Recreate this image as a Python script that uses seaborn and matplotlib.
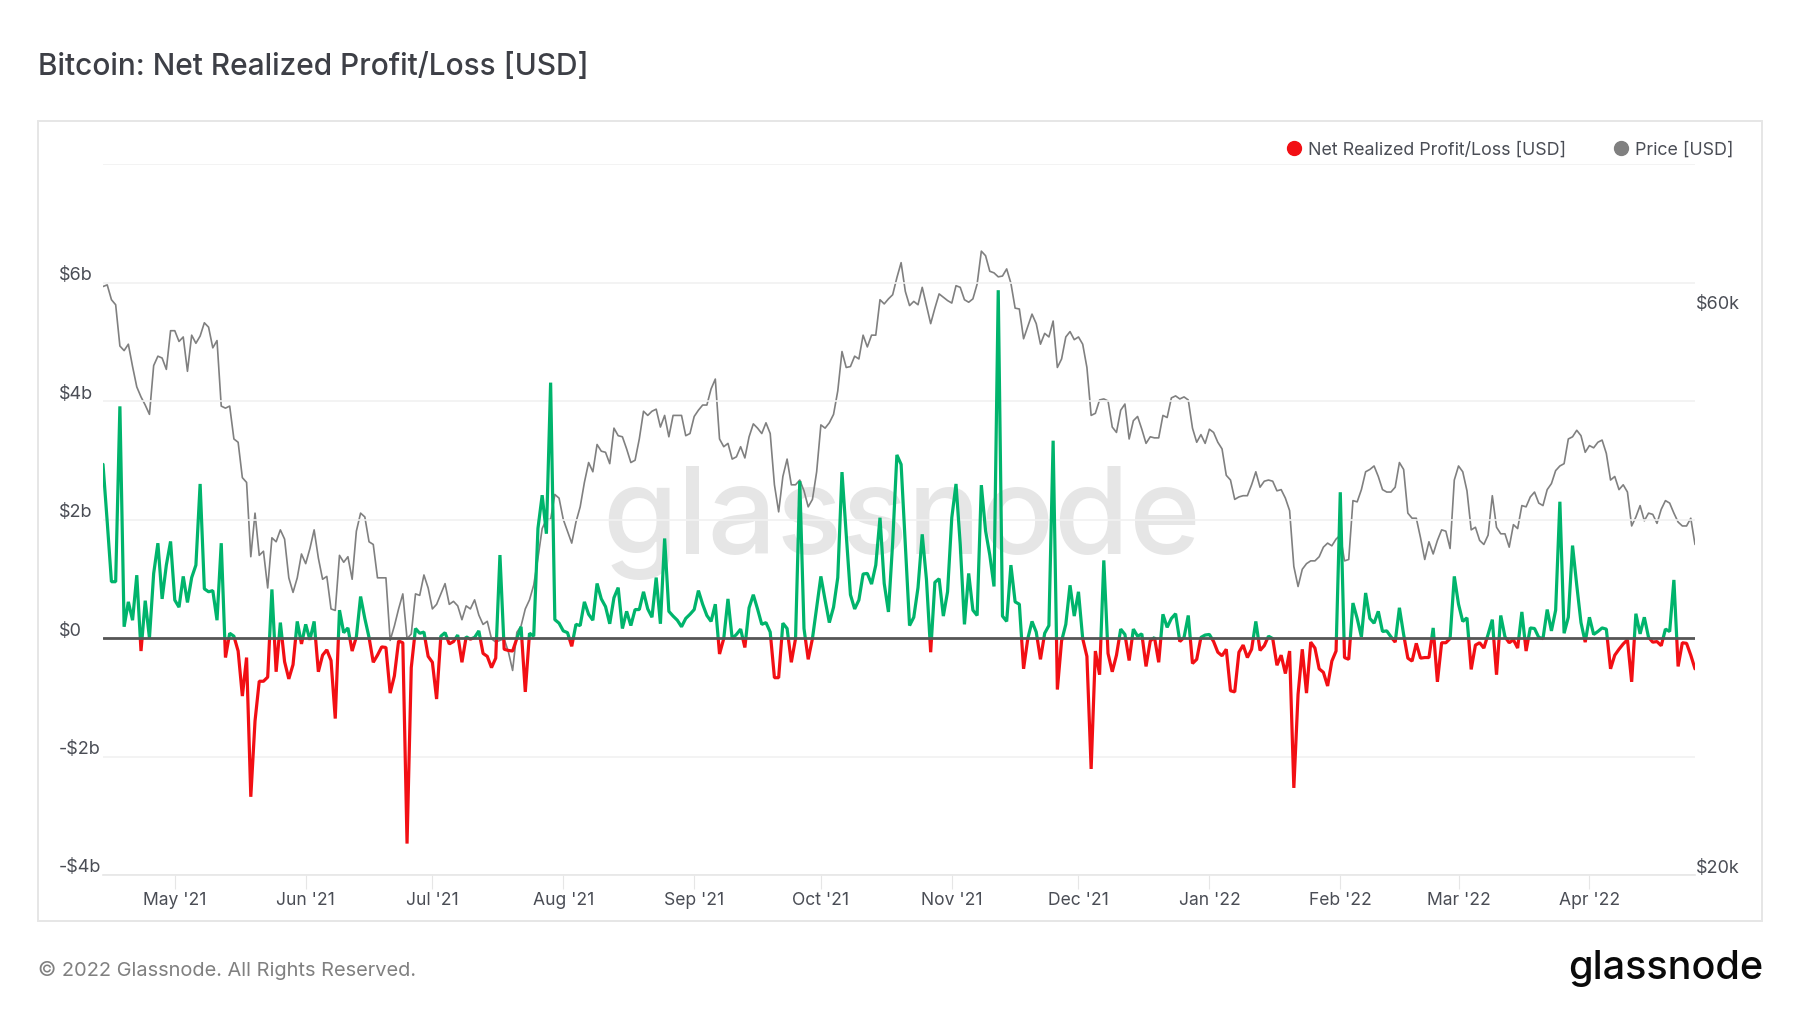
import matplotlib
matplotlib.use("Agg")
import matplotlib.pyplot as plt
from matplotlib.lines import Line2D
from matplotlib.patches import Rectangle
from matplotlib.ticker import NullLocator
from matplotlib.transforms import ScaledTranslation
import numpy as np
import pandas as pd
import seaborn as sns

pnl_b = [
 2.93,1.96,.95,.95,3.91,.19,.61,.30,1.06,-.22,.63,0,1.09,1.6,.66,1.23,1.63,.64,.52,1.04,
 .6,1.02,1.23,2.6,.83,.78,.8,.3,1.6,-.33,.08,.03,-.22,-.98,-.33,-2.68,-1.4,-.73,-.73,-.66,
 .82,-.57,.26,-.4,-.69,-.45,.28,-.1,.23,-.03,.28,-.57,-.29,-.2,-.38,-1.36,.47,.09,.17,-.22,
 .02,.7,.33,.01,-.41,-.29,-.15,-.16,-.93,-.64,-.05,-.08,-3.47,-.5,.16,.08,.1,-.31,-.41,-1.03,
 .03,.09,-.1,-.06,.05,-.41,.02,-.02,.01,.12,-.26,-.31,-.5,-.34,1.4,-.19,-.21,-.22,-.01,.19,
 -.91,.08,.03,1.85,2.41,1.76,4.31,.31,.25,.12,.09,-.14,.23,.21,.61,.4,.3,.92,.66,.53,
 .24,.68,.85,.16,.45,.21,.48,.48,.78,.49,.35,1.02,.24,1.68,.45,.37,.3,.19,.33,.4,
 .48,.8,.57,.38,.28,.57,-.27,-.01,.66,-.01,.06,.15,-.16,.51,.73,.49,.23,.26,.1,-.67,
 -.67,.25,.16,-.41,-.01,2.65,.16,-.36,-.01,.51,1.04,.64,.26,.52,1.02,2.8,1.75,.73,.49,.64,
 1.08,1.09,.91,1.23,2.03,.92,.44,1.61,3.09,2.93,1.58,.21,.35,.85,1.75,.99,-.24,.94,1.0,.37,
 .78,2.03,2.6,1.58,.23,1.09,.47,.38,2.58,1.81,1.4,.87,5.87,.37,.28,1.23,.61,.57,-.52,-.01,
 .28,.1,-.36,.08,.21,3.33,-.87,-.05,.23,.89,.37,.78,-.01,-.31,-2.21,-.22,-.62,1.31,-.26,-.57,
 -.29,.15,.06,-.38,.15,.03,.07,-.48,-.05,.01,-.41,.4,.18,.33,.41,-.06,.01,.38,-.43,-.36,
 .01,.05,.06,-.06,-.24,-.3,-.19,-.89,-.91,-.24,-.12,-.33,-.19,.28,-.21,-.13,.03,-.01,-.46,-.29,
 -.6,-.22,-2.53,-.95,-.19,-.93,-.07,-.17,-.52,-.58,-.81,-.39,-.22,2.46,-.33,-.36,.59,.33,.02,.76,
 .33,.25,.45,.11,.12,.02,-.07,.51,.06,-.34,-.39,-.09,-.34,-.33,-.33,.17,-.74,-.08,-.08,-.01,
 1.04,.57,.28,.34,-.53,-.12,-.08,-.17,.06,.31,-.62,.38,.02,-.08,-.03,-.17,.44,-.22,.17,.16,
 .01,-.01,.48,.12,.47,2.3,.08,.35,1.56,.89,.26,-.07,.35,.06,.11,.17,.15,-.52,-.29,-.19,
 -.1,-.03,-.74,.41,.07,.35,.01,-.07,-.06,-.13,.15,.11,.98,-.48,-.08,-.09,-.29,-.52,
]
price_k = [
 63.0,63.2,61.4,60.8,56.1,55.6,56.3,53.9,51.8,50.8,50.0,49.1,54.0,55.0,54.8,53.6,57.8,57.8,56.6,57.1,
 53.4,57.3,56.4,57.2,58.7,58.2,55.9,56.7,49.9,49.7,49.9,46.8,46.5,43.4,43.0,37.2,40.5,37.3,37.6,35.0,
 38.6,38.3,39.2,38.5,35.7,34.7,35.7,37.4,36.7,37.8,39.2,37.1,35.6,35.8,33.6,33.5,37.3,36.8,37.2,35.6,
 39.1,40.5,40.2,38.3,38.1,35.7,35.7,35.7,31.6,32.5,33.6,34.6,31.7,32.0,34.6,34.5,35.9,35.0,33.6,33.9,
 34.6,35.3,33.9,34.1,33.8,32.9,33.8,33.6,34.2,33.2,32.6,32.8,31.7,31.5,31.6,31.7,30.9,29.8,32.1,32.5,
 33.6,34.2,35.2,37.1,39.3,40.0,40.0,42.0,41.7,40.0,39.1,38.2,39.8,41.0,43.0,44.7,43.9,46.3,45.7,45.6,
 44.6,47.8,47.1,47.0,45.9,44.7,44.9,46.8,49.4,49.0,49.4,49.6,47.9,49.0,47.0,49.0,49.0,49.0,47.1,47.3,
 48.9,49.5,50.0,50.0,51.6,52.6,46.8,46.1,46.4,45.0,45.2,46.1,45.1,47.0,48.2,47.8,47.3,48.3,47.3,42.8,
 40.6,43.5,45.0,42.8,42.8,43.2,42.3,41.0,41.6,43.9,48.1,47.8,48.3,49.1,51.4,55.5,53.8,53.9,55.0,54.7,
 57.3,56.0,57.3,57.3,61.4,60.9,61.5,62.0,64.1,66.0,62.4,60.7,61.2,60.8,62.9,60.7,58.6,60.4,62.1,61.7,
 61.3,61.0,63.1,62.9,61.4,61.1,61.5,63.3,67.5,66.9,64.9,64.7,64.2,64.3,65.2,63.4,60.4,60.3,56.9,58.3,
 59.7,58.6,56.3,57.5,57.1,58.9,53.8,54.7,57.1,57.7,56.8,57.1,56.3,53.8,49.0,49.2,50.5,50.6,50.4,47.9,
 47.4,49.5,50.1,46.8,48.5,48.9,47.7,46.4,47.0,46.9,46.9,49.0,48.8,50.7,50.9,50.6,50.8,50.5,47.8,46.5,
 47.2,46.4,47.7,47.4,46.5,45.9,43.6,43.2,41.6,41.8,41.9,41.9,42.8,43.9,42.6,43.1,43.2,43.1,42.3,42.4,
 41.7,40.7,36.5,35.1,36.3,36.7,36.9,36.9,37.2,37.9,38.2,38.0,38.5,38.8,36.9,37.0,41.5,41.4,42.4,43.9,
 44.1,44.4,43.5,42.4,42.2,42.2,42.6,44.7,44.1,40.5,40.1,40.1,38.6,37.0,38.3,37.4,38.4,39.2,39.1,37.8,
 43.2,44.4,43.9,42.3,39.2,39.4,38.4,38.1,38.8,41.9,39.4,38.9,38.9,37.9,39.6,39.3,41.1,41.0,41.8,42.2,
 41.3,41.1,42.4,42.9,44.0,44.4,44.6,46.8,47.0,47.6,47.1,45.6,46.2,46.0,46.5,46.7,45.5,43.2,43.5,42.4,
 42.8,42.2,39.5,40.2,41.1,39.9,40.5,40.4,39.7,40.8,41.5,41.3,40.5,39.8,39.5,39.5,40.1,38.1,
]
start_date = "2021-04-14"
month_ticks = ["2021-05-01","2021-06-01","2021-07-01","2021-08-01","2021-09-01","2021-10-01",
               "2021-11-01","2021-12-01","2022-01-01","2022-02-01","2022-03-01","2022-04-01"]
month_labels = ["May '21","Jun '21","Jul '21","Aug '21","Sep '21","Oct '21",
                "Nov '21","Dec '21","Jan '22","Feb '22","Mar '22","Apr '22"]
left_ticks = [-4, -2, 0, 2, 4, 6, 8]
left_labels = ["-$4b", "-$2b", "$0", "$2b", "$4b", "$6b", ""]
right_ticks = [20000, 60000]
right_labels = ["$20k", "$60k"]
title = "Bitcoin: Net Realized Profit/Loss [USD]"
series_names = ["Net Realized Profit/Loss [USD]", "Price [USD]"]
footer = "\u00a9 2022 Glassnode. All Rights Reserved."

GREEN, RED, GREY = "#00b46c", "#f20f14", "#808080"
TEXT, GRIDC, EDGE = "#4a4d55", "#f1f1f1", "#e6e6e6"

sns.set_theme(style="white")
plt.rcParams["font.family"] = ["Inter", "DejaVu Sans"]

W, H = 1800, 1013
fig = plt.figure(figsize=(W / 100, H / 100), dpi=100, facecolor="white")
def fx(p): return p / W
def fy(p): return 1 - p / H

df = pd.DataFrame({"date": pd.date_range(start_date, periods=len(pnl_b), freq="D"),
                   "pnl": pnl_b, "price": np.array(price_k) * 1000})

L, R, T, B = 103, 1695, 164, 875
ax = fig.add_axes([fx(L), fy(B), (R - L) / W, (B - T) / H])
ax2 = ax.twinx()
ax.set_zorder(2); ax2.set_zorder(1)
ax.patch.set_visible(False)

fig.text(fx(902), fy(523), "glassnode", ha="center", va="center",
         fontsize=87.5, color="#e6e6e6", fontweight="medium", zorder=-1)
ax2.patch.set_visible(False)
sns.lineplot(data=df, x="date", y="price", ax=ax2, color=GREY, lw=1.2, errorbar=None)
ax2.set_yscale("log")
ax2.set_ylim(20000, 80000)
ax2.set_yticks(right_ticks, right_labels)
ax2.yaxis.set_minor_locator(NullLocator())
ax2.set_ylabel("")

sns.lineplot(data=df, x="date", y="pnl", ax=ax, color=GREEN, lw=2.3, errorbar=None)
pos_line = ax.lines[-1]
sns.lineplot(data=df, x="date", y="pnl", ax=ax, color=RED, lw=2.3, errorbar=None)
neg_line = ax.lines[-1]
ax.set_xlim(df["date"].iloc[0], df["date"].iloc[-1])
ax.set_ylim(-4, 8)
x0, x1 = ax.get_xlim()
pos_line.set_clip_path(Rectangle((x0, 0), x1 - x0, 8, transform=ax.transData))
neg_line.set_clip_path(Rectangle((x0, -4), x1 - x0, 4, transform=ax.transData))
for l in (pos_line, neg_line):
    l.set_solid_joinstyle("bevel")
ax.axhline(0, color="#555555", lw=2.0, zorder=5)

ax.set_yticks(left_ticks, left_labels)
ax.grid(axis="y", color=GRIDC, lw=1.2, zorder=0)
ax.grid(axis="x", visible=False)
ax2.grid(False)
ax.set_xticks(pd.to_datetime(month_ticks), month_labels)
ax.set_xlabel(""); ax.set_ylabel("")
for a in (ax, ax2):
    for s in a.spines.values():
        s.set_visible(False)
ax.spines["bottom"].set_visible(True)
ax.spines["bottom"].set_color(EDGE)
ax.spines["bottom"].set_linewidth(1.2)
ax.tick_params(axis="x", length=10, width=0.8, color=EDGE, labelcolor=TEXT, labelsize=12.6, pad=2, bottom=True)
ax.tick_params(axis="y", length=0, labelcolor=TEXT, labelsize=13, pad=31.7, left=False)
ax2.tick_params(axis="y", length=0, labelcolor=TEXT, labelsize=13, pad=0.5, right=False)
up = ScaledTranslation(0, 2.5 / 100, fig.dpi_scale_trans)
for lab in ax.get_yticklabels():
    lab.set_horizontalalignment("left")
    lab.set_verticalalignment("baseline")
    lab.set_transform(lab.get_transform() + up)
for lab in ax2.get_yticklabels():
    lab.set_verticalalignment("baseline")
    lab.set_transform(lab.get_transform() + up)

fig.add_artist(Rectangle((fx(38), fy(921)), (1762 - 38) / W, (921 - 121) / H, transform=fig.transFigure,
                         fill=False, edgecolor=EDGE, lw=1.4, zorder=0))
fig.text(fx(38), fy(67), title, fontsize=21.5, color="#3d3f46", va="center", ha="left", fontweight="medium")
fig.text(fx(38), fy(970), footer, fontsize=14.4, color="#808080", va="center", ha="left")
fig.text(fx(1763), fy(968), "glassnode", fontsize=28.5, color="#0a0a0a", fontweight="medium",
         va="center", ha="right")

handles = [Line2D([], [], ls="", marker="o", ms=10, color=RED),
           Line2D([], [], ls="", marker="o", ms=10, color=GREY)]
fig.legend(handles, series_names, ncol=2, frameon=False, loc="center right",
           bbox_to_anchor=(fx(1733), fy(150)), fontsize=12.85, labelcolor=TEXT,
           handlelength=1, handletextpad=0.27, columnspacing=2.58, borderaxespad=0, borderpad=0)

fig.savefig("out.png", dpi=100)
